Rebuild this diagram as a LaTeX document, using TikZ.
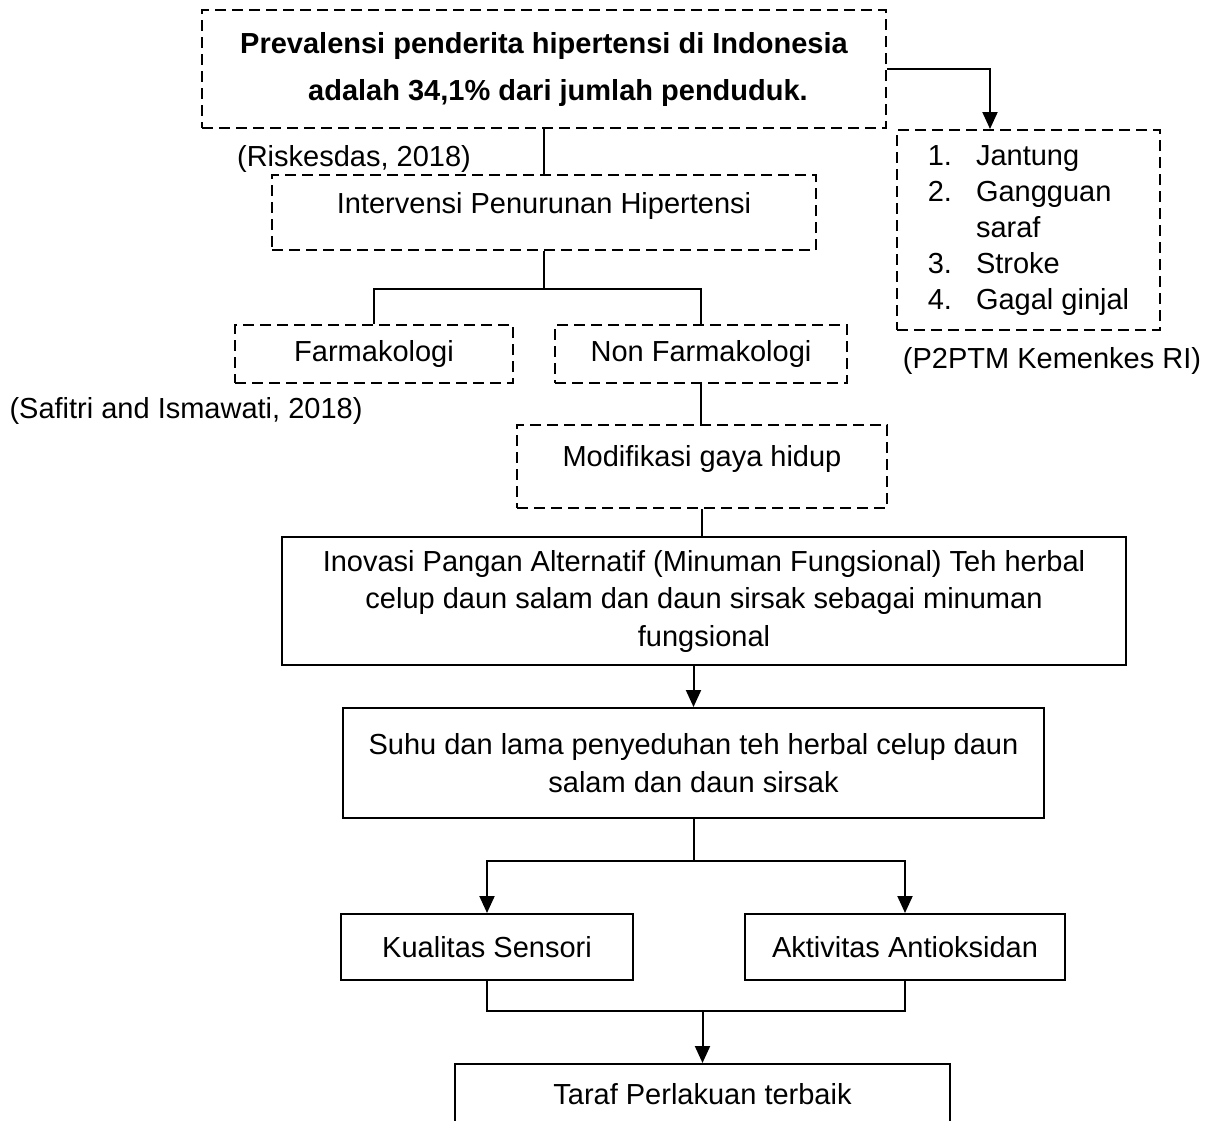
\documentclass[tikz,border=0pt]{standalone}
\usepackage{fontspec}
\setmainfont{Liberation Sans}
\usetikzlibrary{arrows.meta}

\begin{document}
\begin{tikzpicture}[x=1pt,y=-1pt,line width=2pt,font=\fontsize{29}{37.5}\selectfont]
\tikzstyle{dbox}=[draw,dash pattern=on 11pt off 6pt,inner sep=0pt,align=center]
\tikzstyle{sbox}=[draw,inner sep=0pt,align=center]
\tikzstyle{arr}=[-{Triangle[length=17pt,width=15pt]}]
\useasboundingbox (0,0) rectangle (1215,1120);
\clip (0,0) rectangle (1215,1120);
% dashed part
\node[dbox,minimum width=684pt,minimum height=118pt,font=\fontsize{29}{47}\selectfont\bfseries] (prev) at (544,69) {Prevalensi penderita hipertensi di Indonesia\\\hspace*{28pt}adalah 34,1\% dari jumlah penduduk.};
\node[dbox,minimum width=263pt,minimum height=200pt,font=\fontsize{29}{36}\selectfont] (akibat) at (1028.5,230) {\begin{tabular}{@{}l@{\hspace{24pt}}l@{}}1.&Jantung\\2.&Gangguan\\&saraf\\3.&Stroke\\4.&Gagal ginjal\end{tabular}};
\node[dbox,minimum width=544pt,text height=38pt,text depth=37pt] (interv) at (544,212.5) {Intervensi Penurunan Hipertensi};
\node[dbox,minimum width=278pt,minimum height=58pt] (farm) at (374,354) {Farmakologi};
\node[dbox,minimum width=292pt,minimum height=58pt] (nonfarm) at (701,354) {Non Farmakologi};
\node[dbox,minimum width=370pt,text height=41pt,text depth=42pt] (modif) at (702,466.5) {Modifikasi gaya hidup};
% sources
\node (riskesdas) at (354,159) {(Riskesdas, 2018)};
\node (p2ptm) at (1052,361) {(P2PTM Kemenkes RI)};
\node (safitri) at (186,411) {(Safitri and Ismawati, 2018)};
% solid part
\node[sbox,minimum width=844pt,minimum height=128pt] (inov) at (704,601) {Inovasi Pangan Alternatif (Minuman Fungsional) Teh herbal\\celup daun salam dan daun sirsak sebagai minuman\\fungsional};
\node[sbox,minimum width=701pt,minimum height=110pt] (suhu) at (693.5,763) {Suhu dan lama penyeduhan teh herbal celup daun\\salam dan daun sirsak};
\node[sbox,minimum width=292pt,minimum height=66pt] (kual) at (487,947) {Kualitas Sensori};
\node[sbox,minimum width=320pt,minimum height=66pt] (aktiv) at (905,947) {Aktivitas Antioksidan};
\node[sbox,minimum width=495pt,text height=40pt,text depth=60pt,anchor=north] (taraf) at (702.5,1063) {Taraf Perlakuan terbaik};
% connectors
\draw[arr] (prev.east) -| ([xshift=-38.5pt]akibat.north);
\draw (prev.south) -- (interv.north);
\draw (interv.south) -- ++(0,38) coordinate (cab1);
\draw (farm.north) |- (cab1) -| (nonfarm.north);
\draw (nonfarm.south) -- (nonfarm.south |- modif.north);
\draw (modif.south) -- (modif.south |- inov.north);
\draw[arr] (suhu.north |- inov.south) -- (suhu.north);
\draw (suhu.south) -- ++(0,42) coordinate (cab2);
\draw[arr] (cab2) -| (kual.north);
\draw[arr] (cab2) -| (aktiv.north);
\draw (kual.south) -- ++(0,30) coordinate (cab3) -| (aktiv.south);
\draw[arr] (cab3 -| taraf.north) -- (taraf.north);
\end{tikzpicture}
\end{document}
